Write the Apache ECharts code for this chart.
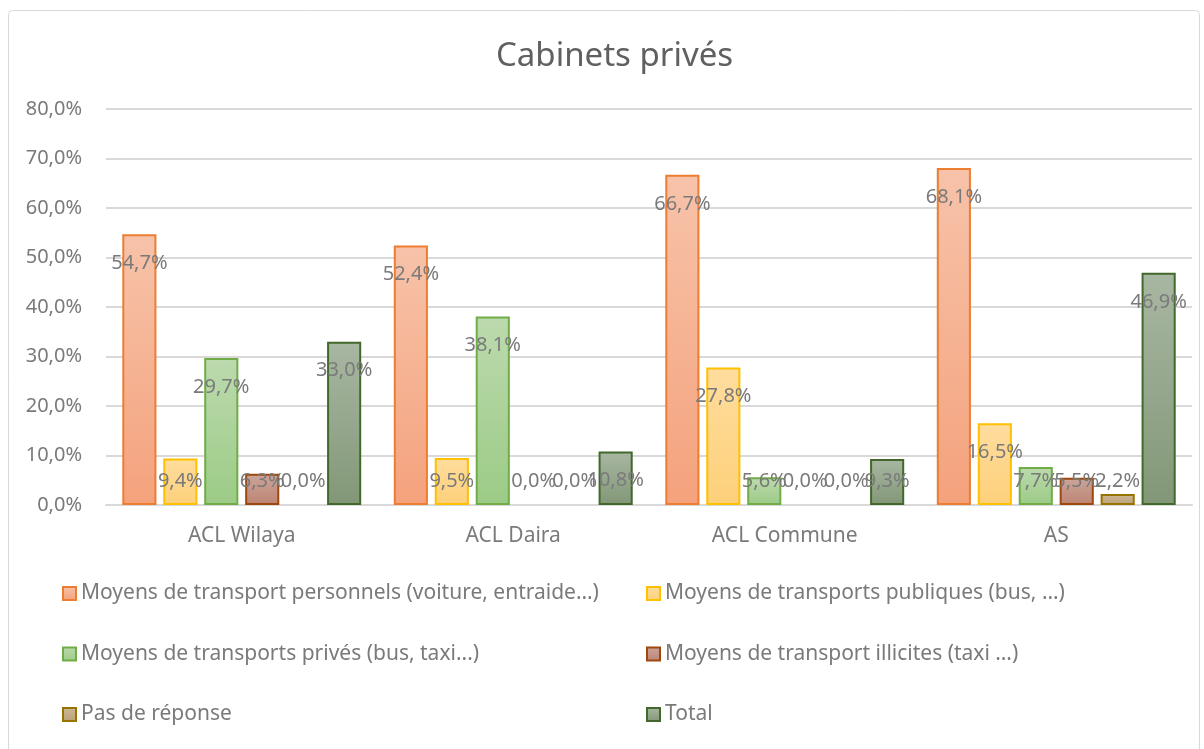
<!DOCTYPE html>
<html><head><meta charset="utf-8">
<script src="https://cdn.jsdelivr.net/npm/echarts@6/dist/echarts.min.js"></script>
<style>html,body{margin:0;padding:0;background:#fff}#c{width:1204px;height:749px}</style>
</head><body><div id="c"></div>
<script>
const categories = ['ACL Wilaya', 'ACL Daira', 'ACL Commune', 'AS'];
const seriesNames = [
  'Moyens de transport personnels (voiture, entraide…)',
  'Moyens de transports publiques (bus, …)',
  'Moyens de transports privés (bus, taxi...)',
  'Moyens de transport illicites (taxi …)',
  'Pas de réponse',
  'Total'
];
const personnels = [54.7, 52.4, 66.7, 68.1];
const publiques = [9.4, 9.5, 27.8, 16.5];
const prives = [29.7, 38.1, 5.6, 7.7];
const illicites = [6.3, 0.0, 0.0, 5.5];
const pasDeReponse = [0.0, 0.0, 0.0, 2.2];
const total = [33.0, 10.8, 9.3, 46.9];
const yTicks = [0, 10, 20, 30, 40, 50, 60, 70, 80];

const values = [personnels, publiques, prives, illicites, pasDeReponse, total];
const styles = [
  {top: '#f7c3aa', bottom: '#f4a27c', border: '#ed7d31'},
  {top: '#ffdd9e', bottom: '#fdd07a', border: '#ffc000'},
  {top: '#bcdaae', bottom: '#9ccb86', border: '#70ad47'},
  {top: '#cba59a', bottom: '#bd8473', border: '#9e480e'},
  {top: '#cfbb98', bottom: '#b99f74', border: '#997300'},
  {top: '#a8b7a2', bottom: '#829777', border: '#43682b'}
];
const fmt = v => v.toFixed(1).replace('.', ',') + '%';
const labelColor = '#7a7a7a';
const font = 'Noto Sans';

const series = values.map((arr, i) => ({
  name: seriesNames[i],
  type: 'bar',
  barGap: '20%',
  barCategoryGap: '12%',
  itemStyle: {
    color: {type: 'linear', x: 0, y: 0, x2: 0, y2: 1,
      colorStops: [{offset: 0, color: styles[i].top}, {offset: 1, color: styles[i].bottom}]},
    borderColor: styles[i].border,
    borderWidth: 2
  },
  label: {
    show: true, color: labelColor, fontFamily: font, fontSize: 20,
    formatter: p => fmt(p.value)
  },
  data: arr.map(v => ({
    value: v,
    itemStyle: v === 0 ? {borderWidth: 0} : undefined,
    label: v < 10.7 ? {position: 'insideBottom', distance: 14} : {position: 'insideTop', distance: 19}
  }))
}));

const chart = echarts.init(document.getElementById('c'), null, {renderer: 'canvas'});
chart.setOption({
  animation: false,
  backgroundColor: '#fff',
  textStyle: {fontFamily: font},
  title: {
    text: 'Cabinets privés', left: 491, top: 35,
    textStyle: {fontFamily: font, fontSize: 33, fontWeight: 'normal', color: '#606060'}
  },
  graphic: [{
    type: 'rect', shape: {x: 8.5, y: 10.5, width: 1191, height: 745, r: 4},
    style: {fill: 'none', stroke: '#d9d9d9', lineWidth: 1}, silent: true
  }],
  grid: {left: 106, right: 12, top: 109, bottom: 244},
  xAxis: {
    type: 'category', data: categories,
    axisLine: {lineStyle: {color: '#d9d9d9', width: 2}},
    axisTick: {show: false},
    axisLabel: {color: labelColor, fontFamily: font, fontSize: 21, margin: 21}
  },
  yAxis: {
    type: 'value', min: 0, max: 80, interval: 10,
    axisLine: {show: false}, axisTick: {show: false},
    splitLine: {lineStyle: {color: '#d9d9d9', width: 2}},
    axisLabel: {color: labelColor, fontFamily: font, fontSize: 20, margin: 24,
      formatter: v => yTicks.includes(v) ? fmt(v) : ''}
  },
  legend: [
    {data: [seriesNames[0], seriesNames[2], seriesNames[4]], orient: 'vertical',
     left: 57, top: 578, itemGap: 39.5, itemWidth: 13, itemHeight: 13, icon: 'rect',
     textStyle: {color: labelColor, fontFamily: font, fontSize: 21}},
    {data: [seriesNames[1], seriesNames[3], seriesNames[5]], orient: 'vertical',
     left: 641, top: 578, itemGap: 39.5, itemWidth: 13, itemHeight: 13, icon: 'rect',
     textStyle: {color: labelColor, fontFamily: font, fontSize: 21}}
  ],
  series: series
});
</script></body></html>
